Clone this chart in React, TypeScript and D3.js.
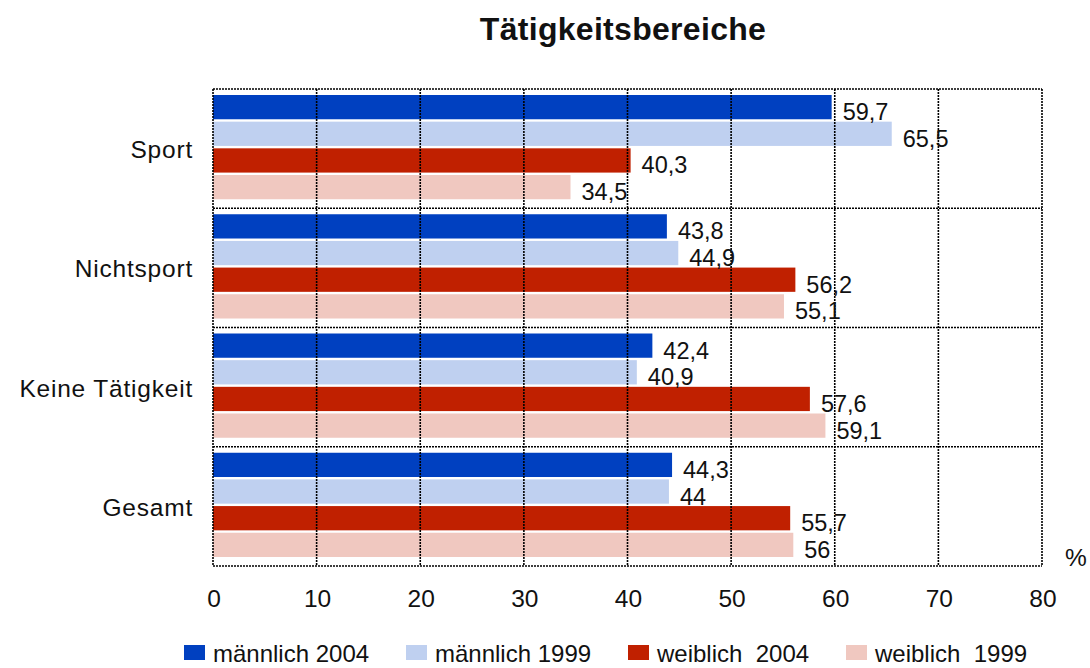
import React from 'react';
import * as d3 from 'd3';

const categories = ['Sport', 'Nichtsport', 'Keine Tätigkeit', 'Gesamt'];
const seriesNames = ['männlich 2004', 'männlich 1999', 'weiblich  2004', 'weiblich  1999'];
const maennlich2004 = [59.7, 43.8, 42.4, 44.3];
const maennlich1999 = [65.5, 44.9, 40.9, 44];
const weiblich2004 = [40.3, 56.2, 57.6, 55.7];
const weiblich1999 = [34.5, 55.1, 59.1, 56];
const xTicks = [0, 10, 20, 30, 40, 50, 60, 70, 80];

const colors = ['#0040C0', '#BFD0F0', '#C02000', '#F0C8C0'];
const legendX = [184, 406, 628, 846];

const W = 1090;
const H = 668;
const margin = {left: 213, right: 48, top: 89, bottom: 102};
const FONT = '"Liberation Sans", Arial, sans-serif';

const App = () => {
    const series = [maennlich2004, maennlich1999, weiblich2004, weiblich1999];

    const x = d3.scaleLinear().domain([0, 80]).range([margin.left, W - margin.right]);
    const y = d3.scaleBand().domain(categories).range([margin.top, H - margin.bottom]);
    const inner = d3.scaleBand<number>()
        .domain([0, 1, 2, 3])
        .range([6, y.bandwidth() - 9])
        .paddingInner(0.09);

    const fmt = (v: number) => String(v).replace('.', ',');
    const grid = {stroke: '#000', strokeWidth: 1.6, strokeDasharray: '2,1'};

    return (
        <svg width={W} height={H} style={{position: 'absolute', left: 0, top: 0}} fontFamily={FONT}>
            <rect width={W} height={H} fill="#fff"/>
            <text x={623} y={40} textAnchor="middle" fontSize={32} fontWeight="bold" fill="#111"
                  letterSpacing={0.3}>
                Tätigkeitsbereiche
            </text>

            {categories.map((c, ci) =>
                series.map((s, si) => (
                    <rect key={c + si}
                          x={x(0)}
                          y={(y(c) as number) + (inner(si) as number)}
                          width={x(s[ci]) - x(0)}
                          height={inner.bandwidth()}
                          fill={colors[si]}/>
                ))
            )}

            {xTicks.map(t => (
                <line key={'v' + t} x1={x(t)} x2={x(t)} y1={margin.top} y2={H - margin.bottom} {...grid}/>
            ))}
            {[...categories.map(c => y(c) as number), H - margin.bottom].map((v, i) => (
                <line key={'h' + i} x1={x(0)} x2={x(80)} y1={v} y2={v} {...grid}/>
            ))}

            {categories.map((c, ci) =>
                series.map((s, si) => (
                    <text key={'l' + c + si}
                          x={x(s[ci]) + 11}
                          y={(y(c) as number) + (inner(si) as number) + inner.bandwidth() / 2 + 13}
                          fontSize={23.5} fill="#111">
                        {fmt(s[ci])}
                    </text>
                ))
            )}

            {categories.map(c => (
                <text key={'c' + c} x={193} y={(y(c) as number) + y.bandwidth() / 2 + 9.5}
                      textAnchor="end" fontSize={24.5} fill="#111" letterSpacing={0.8}>
                    {c}
                </text>
            ))}

            {xTicks.map(t => (
                <text key={'t' + t} x={x(t) + 1} y={607} textAnchor="middle" fontSize={24.5} fill="#111">
                    {t}
                </text>
            ))}
            <text x={1076} y={566} textAnchor="middle" fontSize={24.5} fill="#111">%</text>

            {seriesNames.map((n, i) => (
                <g key={n}>
                    <rect x={legendX[i]} y={645} width={21} height={15} fill={colors[i]}/>
                    <text x={legendX[i] + 29} y={662} fontSize={24} fill="#111"
                          style={{whiteSpace: 'pre'}}>
                        {n}
                    </text>
                </g>
            ))}
        </svg>
    );
};

export default App;
